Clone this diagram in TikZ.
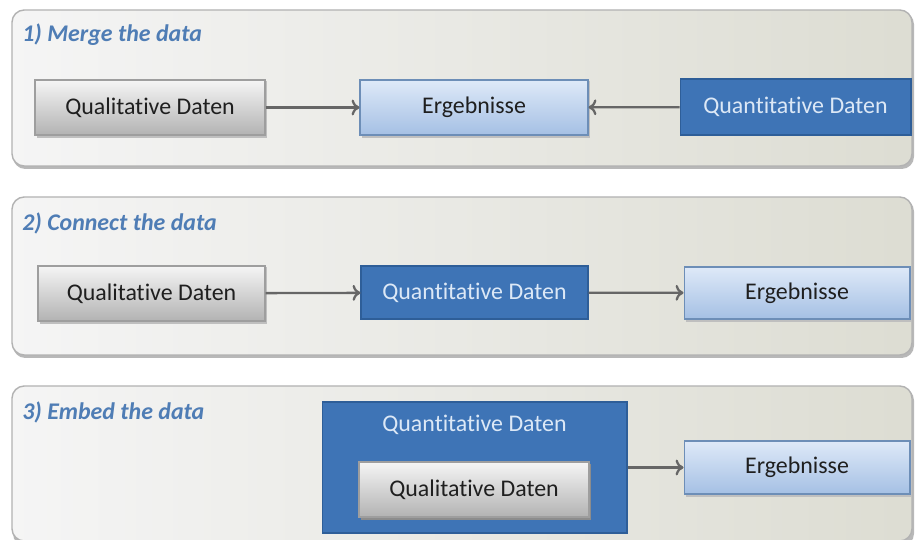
\documentclass[tikz,border=0pt]{standalone}
\usepackage{fontspec}
\setmainfont[Ligatures=NoCommon]{Carlito}
\usetikzlibrary{arrows.meta}
\definecolor{titleblue}{HTML}{4F7DB5}
\definecolor{darkblue}{HTML}{3E74B6}
\definecolor{darkblueborder}{HTML}{2E5E98}
\definecolor{lighttext}{HTML}{DCE8F6}
\definecolor{arrowgray}{HTML}{666666}
\tikzset{
  panel/.style={draw=black!30, line width=0.8pt, rounded corners=7pt, left color=white!96!black, right color=black!14!white!96!yellow},
  paneltitle/.style={anchor=west, text=titleblue, font=\fontsize{13.6}{16}\selectfont\bfseries\itshape, inner sep=0pt},
  qualbox/.style={draw=black!38, line width=0.6pt, top color=black!4, bottom color=black!30, text=black!88, font=\fontsize{13.6}{16}\selectfont, inner sep=0pt},
  ergbox/.style={draw=darkblueborder!70, line width=0.6pt, top color={rgb,255:red,222;green,233;blue,248}, bottom color={rgb,255:red,165;green,192;blue,228}, text=black!88, font=\fontsize{13.6}{16}\selectfont, inner sep=0pt},
  quantbox/.style={draw=darkblueborder, line width=0.6pt, fill=darkblue, text=lighttext, font=\fontsize{13.6}{16}\selectfont, inner sep=0pt},
  shade/.style={fill=black!25},
  conn/.style={draw=arrowgray, line width=1.3pt, -{To[length=4.5pt,width=9pt]}}
}
\begin{document}
\begin{tikzpicture}[x=0.02cm,y=-0.02cm]
\useasboundingbox (0,0) rectangle (920,540);
\clip (0,0) rectangle (920,540);
\fill[white] (0,0) rectangle (920,540);
% panels with shadows
\fill[black!28, rounded corners=7pt] (13,12) rectangle (914,169);
\path[panel] (12,10) rectangle (912,166);
\fill[black!28, rounded corners=7pt] (13,199) rectangle (914,358);
\path[panel] (12,197) rectangle (912,355);
\fill[black!28, rounded corners=7pt] (13,388) rectangle (914,546);
\path[panel] (12,386) rectangle (912,541);
% titles
\node[paneltitle] (t1) at (22,35) {1) Merge the data};
\node[paneltitle] (t2) at (22,223) {2) Connect the data};
\node[paneltitle] (t3) at (22,412) {3) Embed the data};
% row 1
\fill[shade] (37,81) rectangle (267,138);
\node[qualbox, minimum width=4.6cm, minimum height=1.1cm] (q1) at (150,107.5) {Qualitative Daten};
\fill[shade] (362,81) rectangle (590,138);
\node[ergbox, minimum width=4.56cm, minimum height=1.1cm] (e1) at (474,107.5) {Ergebnisse};
\node[quantbox, minimum width=4.62cm, minimum height=1.12cm] (n1) at (795.5,107) {Quantitative Daten};
\draw[conn] (q1) -- (e1);
\draw[conn] (n1) -- (e1);
% row 2
\fill[shade] (40,267) rectangle (267,324);
\node[qualbox, minimum width=4.54cm, minimum height=1.1cm] (q2) at (151.5,293.5) {Qualitative Daten};
\node[quantbox, minimum width=4.54cm, minimum height=1.06cm] (n2) at (474.5,292.5) {Quantitative Daten};
\fill[shade] (686,268) rectangle (912,322);
\node[ergbox, minimum width=4.52cm, minimum height=1.04cm] (e2) at (797,293) {Ergebnisse};
\draw[conn] (q2) -- (n2);
\draw[conn] (n2) -- (e2);
% row 3
\node[quantbox, minimum width=6.1cm, minimum height=2.62cm] (n3) at (474.5,467.5) {};
\node[text=lighttext, font=\fontsize{13.6}{16}\selectfont, inner sep=0pt] (n3l) at (474.5,425) {Quantitative Daten};
\fill[black!45] (361,464) rectangle (591,520);
\node[qualbox, minimum width=4.6cm, minimum height=1.1cm] (q3) at (474,489.5) {Qualitative Daten};
\fill[shade] (686,443) rectangle (912,497);
\node[ergbox, minimum width=4.52cm, minimum height=1.06cm] (e3) at (797,467.5) {Ergebnisse};
\draw[conn] (n3) -- (e3);
\end{tikzpicture}
\end{document}
